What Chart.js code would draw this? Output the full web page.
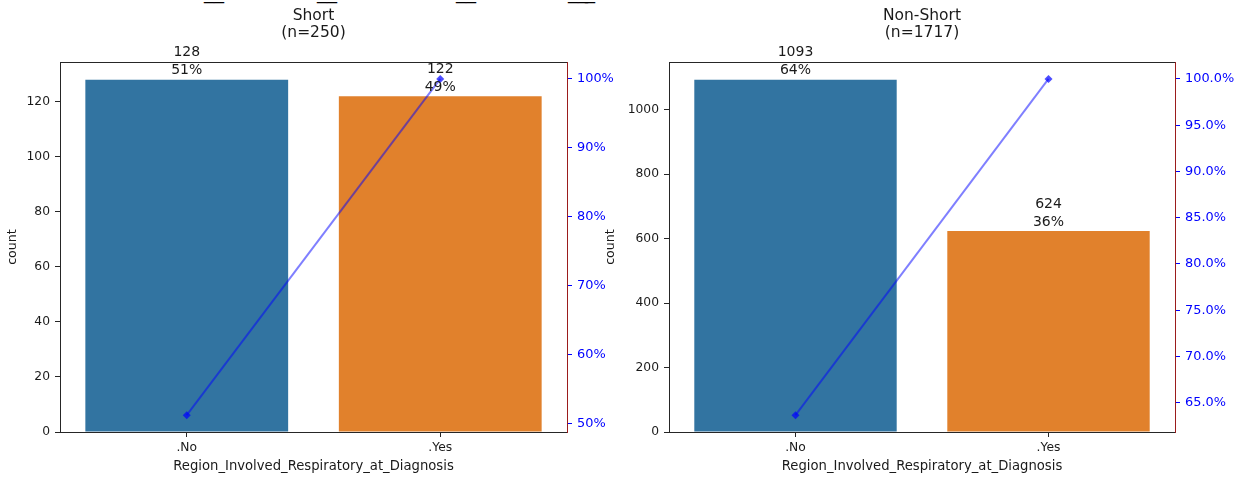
<!DOCTYPE html>
<html>
<head>
<meta charset="utf-8">
<script src="https://cdn.jsdelivr.net/npm/chart.js@4.4.1/dist/chart.umd.min.js"></script>
<style>
  html, body { margin: 0; padding: 0; background: #ffffff; }
  body { width: 1241px; height: 481px; position: relative; overflow: hidden; font-family: "DejaVu Sans", sans-serif; }
  .wrap { position: absolute; top: 0; }
  #leftWrap { left: 0; width: 620px; height: 481px; }
  #rightWrap { left: 598px; width: 643px; height: 481px; }
  .us { position: absolute; top: -18px; font-size: 20px; line-height: 20px; color: #000; white-space: pre; }
</style>
</head>
<body>
<span class="us" style="left:204px">__</span>
<span class="us" style="left:317px">__</span>
<span class="us" style="left:456px">__</span>
<span class="us" style="left:568px">__</span>
<span class="us" style="left:585px">_</span>
<div class="wrap" id="leftWrap"><canvas id="cLeft" width="620" height="481"></canvas></div>
<div class="wrap" id="rightWrap"><canvas id="cRight" width="643" height="481"></canvas></div>
<script>
// ---- data ----
const categories = ['.No', '.Yes'];
const shortCounts = [128, 122];
const nonShortCounts = [1093, 624];
const shortCumPct = [51.2, 100];
const nonShortCumPct = [63.66, 100];
const shortTitle = ['Short', '(n=250)'];
const nonShortTitle = ['Non-Short', '(n=1717)'];
const xAxisLabel = 'Region_Involved_Respiratory_at_Diagnosis';
const yAxisLabel = 'count';
const shortCountTicks = [0, 20, 40, 60, 80, 100, 120];
const nonShortCountTicks = [0, 200, 400, 600, 800, 1000];
const shortPctTicks = [50, 60, 70, 80, 90, 100];
const nonShortPctTicks = [65, 70, 75, 80, 85, 90, 95, 100];
const barColors = ['#3274a1', '#e1812c'];

const FONT = '"DejaVu Sans", sans-serif';

const valueLabels = {
  id: 'valueLabels',
  afterDatasetsDraw(chart) {
    const ctx = chart.ctx;
    const idx = chart.data.datasets.findIndex(d => d.type === 'bar');
    const ds = chart.data.datasets[idx];
    const meta = chart.getDatasetMeta(idx);
    const total = ds.data.reduce((a, b) => a + b, 0);
    ctx.save();
    ctx.font = '14px ' + FONT;
    ctx.fillStyle = '#1a1a1a';
    ctx.textAlign = 'center';
    ctx.textBaseline = 'middle';
    meta.data.forEach((bar, i) => {
      const v = ds.data[i];
      const pct = Math.round(v / total * 100) + '%';
      ctx.fillText(String(v), bar.x, bar.y - 27);
      ctx.fillText(pct, bar.x, bar.y - 9);
    });
    ctx.restore();
  }
};

const topSpine = {
  id: 'topSpine',
  afterDraw(chart) {
    const a = chart.chartArea;
    const ctx = chart.ctx;
    ctx.save();
    ctx.strokeStyle = '#262626';
    ctx.lineWidth = 1;
    ctx.beginPath();
    ctx.moveTo(a.left, Math.round(a.top) + 0.5);
    ctx.lineTo(a.right, Math.round(a.top) + 0.5);
    ctx.stroke();
    ctx.restore();
  }
};

function makeChart(canvasId, counts, cumPct, titleLines, countTicks, pctTicks, cfg) {
  return new Chart(document.getElementById(canvasId), {
    data: {
      labels: categories,
      datasets: [
        {
          type: 'line',
          data: cumPct,
          yAxisID: 'yPct',
          borderColor: 'rgba(0,0,255,0.5)',
          borderWidth: 2,
          pointStyle: 'rectRot',
          pointRadius: 4,
          pointBackgroundColor: 'rgba(0,0,255,0.7)',
          pointBorderColor: 'rgba(0,0,255,0.7)',
          pointBorderWidth: 0,
          tension: 0,
          order: 0
        },
        {
          type: 'bar',
          data: counts,
          yAxisID: 'yCount',
          backgroundColor: barColors,
          borderWidth: 0,
          barPercentage: 0.8,
          categoryPercentage: 1.0,
          order: 1
        }
      ]
    },
    options: {
      responsive: false,
      animation: false,
      devicePixelRatio: 1,
      layout: { padding: 0 },
      plugins: {
        legend: { display: false },
        tooltip: { enabled: false },
        title: {
          display: true,
          fullSize: false,
          text: titleLines,
          color: '#1a1a1a',
          font: { family: FONT, size: 15.5, weight: 'normal', lineHeight: 1.1 },
          padding: { top: 7.5, bottom: 20.5 }
        }
      },
      scales: {
        x: {
          type: 'category',
          offset: true,
          afterFit: s => { s.height = 49; },
          grid: { display: true, drawOnChartArea: false, drawTicks: true, tickLength: 5, tickColor: '#262626', offset: false },
          border: { display: true, color: '#262626', width: 1 },
          ticks: { color: '#1a1a1a', padding: 3, font: { family: FONT, size: 12.3 } },
          title: { display: true, text: xAxisLabel, color: '#1a1a1a', font: { family: FONT, size: 13.2 }, padding: { top: 0, bottom: 7 } }
        },
        yCount: {
          type: 'linear',
          position: 'left',
          min: 0,
          max: cfg.countMax,
          afterFit: s => { s.width = cfg.leftW; },
          afterBuildTicks: s => { s.ticks = countTicks.map(v => ({ value: v })); },
          grid: { display: true, drawOnChartArea: false, drawTicks: true, tickLength: 5, tickColor: '#262626' },
          border: { display: true, color: '#262626', width: 1 },
          ticks: { color: '#1a1a1a', padding: 5, font: { family: FONT, size: 12.3 }, callback: v => String(v) },
          title: { display: true, text: yAxisLabel, color: '#1a1a1a', font: { family: FONT, size: 12.6 }, padding: { top: cfg.titlePad, bottom: 0 } }
        },
        yPct: {
          type: 'linear',
          position: 'right',
          min: cfg.pctMin,
          max: cfg.pctMax,
          afterFit: s => { s.width = cfg.rightW; },
          afterBuildTicks: s => { s.ticks = pctTicks.map(v => ({ value: v })); },
          grid: { display: true, drawOnChartArea: false, drawTicks: true, tickLength: 5, tickColor: '#0000ff' },
          border: { display: true, color: '#9b1c1c', width: 1 },
          ticks: {
            color: '#0000ff', padding: 5,
            font: { family: FONT, size: 12.9 },
            callback: v => v.toFixed(cfg.pctDecimals) + '%'
          }
        }
      }
    },
    plugins: [valueLabels, topSpine]
  });
}

makeChart('cLeft', shortCounts, shortCumPct, shortTitle, shortCountTicks, shortPctTicks,
  { countMax: 134.4, pctMin: 48.76, pctMax: 102.44, pctDecimals: 0, leftW: 60, rightW: 53, titlePad: 5 });
makeChart('cRight', nonShortCounts, nonShortCumPct, nonShortTitle, nonShortCountTicks, nonShortPctTicks,
  { countMax: 1147.65, pctMin: 61.84, pctMax: 101.82, pctDecimals: 1, leftW: 71, rightW: 66, titlePad: 5.5 });
</script>
</body>
</html>
